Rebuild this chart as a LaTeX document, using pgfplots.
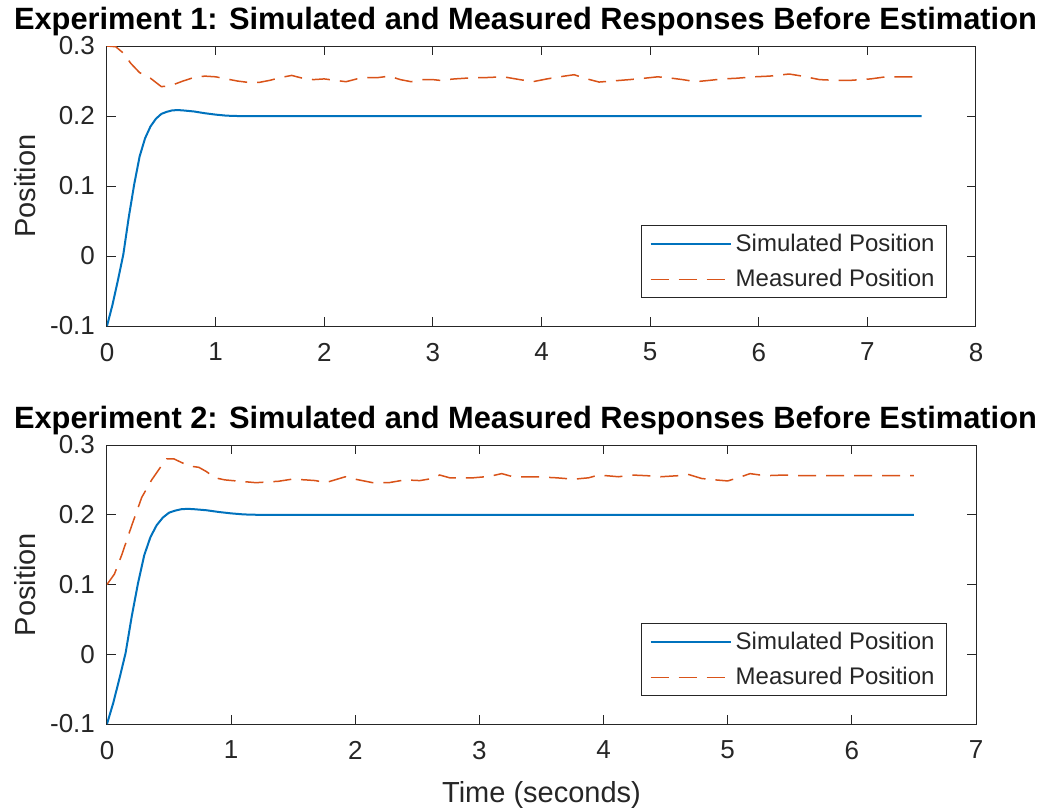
\documentclass[border=0pt]{standalone}
\usepackage{pgfplots}
\pgfplotsset{compat=1.18}
\usepackage{fontspec}
\setmainfont{Liberation Sans}
\definecolor{mblue}{rgb}{0,0.447,0.741}
\definecolor{morange}{rgb}{0.85,0.325,0.098}
\definecolor{axgray}{rgb}{0.15,0.15,0.15}

\pgfplotstableread{
t v
0 -0.1
0.05 -0.07
0.1 -0.035
0.15 0.002
0.2 0.055
0.25 0.102
0.3 0.142
0.35 0.168
0.4 0.185
0.45 0.196
0.5 0.203
0.55 0.206
0.6 0.208
0.65 0.2085
0.7 0.208
0.8 0.2065
0.9 0.204
1.0 0.202
1.1 0.2005
1.2 0.2
7.5 0.2
}\simA

\pgfplotstableread{
t v
0 -0.1
0.05 -0.07
0.1 -0.035
0.15 0.002
0.2 0.055
0.25 0.102
0.3 0.142
0.35 0.168
0.4 0.185
0.45 0.196
0.5 0.203
0.55 0.206
0.6 0.208
0.65 0.2085
0.7 0.208
0.8 0.2065
0.9 0.204
1.0 0.202
1.1 0.2005
1.2 0.2
6.5 0.2
}\simB

\pgfplotstableread{
t v
0 0.3
0.08 0.299
0.15 0.29
0.22 0.275
0.3 0.262
0.4 0.254
0.5 0.242
0.58 0.243
0.7 0.25
0.8 0.255
0.9 0.257
1.0 0.256
1.1 0.253
1.2 0.25
1.3 0.248
1.4 0.248
1.5 0.251
1.6 0.255
1.7 0.258
1.8 0.254
1.9 0.252
2.0 0.253
2.1 0.251
2.2 0.249
2.3 0.253
2.4 0.255
2.5 0.255
2.6 0.257
2.7 0.252
2.8 0.249
2.9 0.252
3.0 0.252
3.06 0.251
3.2 0.253
3.35 0.2545
3.5 0.255
3.65 0.256
3.8 0.252
3.92 0.249
4.05 0.253
4.21 0.257
4.3 0.259
4.42 0.253
4.53 0.2485
4.65 0.25
4.81 0.252
4.95 0.254
5.07 0.256
5.2 0.254
5.3 0.252
5.42 0.249
5.55 0.251
5.67 0.253
5.8 0.254
5.96 0.256
6.1 0.257
6.28 0.26
6.4 0.257
6.56 0.252
6.7 0.251
6.85 0.251
7.03 0.253
7.17 0.256
7.3 0.256
7.5 0.256
}\meaA

\pgfplotstableread{
t v
0 0.1
0.06 0.115
0.12 0.143
0.2 0.185
0.28 0.225
0.36 0.25
0.43 0.268
0.48 0.28
0.54 0.28
0.6 0.275
0.66 0.27
0.74 0.268
0.8 0.262
0.87 0.253
0.95 0.25
1.01 0.249
1.2 0.246
1.38 0.248
1.49 0.251
1.6 0.25
1.68 0.249
1.76 0.246
1.92 0.2545
2.0 0.251
2.14 0.246
2.27 0.246
2.4 0.25
2.52 0.249
2.62 0.252
2.68 0.257
2.76 0.253
2.95 0.253
3.08 0.255
3.18 0.259
3.27 0.2545
3.45 0.2545
3.62 0.253
3.76 0.251
3.88 0.253
3.96 0.257
4.12 0.2545
4.23 0.257
4.35 0.256
4.46 0.2545
4.6 0.256
4.68 0.258
4.79 0.252
4.9 0.25
5.0 0.2485
5.1 0.254
5.18 0.259
5.3 0.256
5.46 0.257
5.6 0.256
5.74 0.256
6.0 0.256
6.3 0.256
6.5 0.256
}\meaB

\pgfplotsset{
  myaxis/.style={
    scale only axis,
    width=434.5pt,
    anchor=south west,
    ymin=-0.1, ymax=0.3,
    ytick={-0.1,0,0.1,0.2,0.3},
    yticklabels={-0.1,0,0.1,0.2,0.3},
    tick align=inside,
    tick pos=both,
    major tick length=4.5pt,
    every tick/.style={axgray, line width=0.5pt},
    axis line style={axgray, line width=0.5pt},
    /pgf/number format/assume math mode=true,
    tick label style={font=\fontsize{13}{15}\selectfont, text=axgray},
    xticklabel style={yshift=-5pt},
    yticklabel style={xshift=-2.5pt},
    ylabel={Position},
    every axis y label/.style={at={(rel axis cs:0,0.5)}, anchor=center, rotate=90, yshift=41pt, font=\fontsize{14.5}{16}\selectfont, text=axgray},
    every axis title/.style={at={(rel axis cs:0.5,1)}, anchor=base, yshift=8.5pt, xshift=-8pt, font=\fontsize{15.4}{17}\selectfont\bfseries},
    legend style={at={(rel axis cs:1,0)}, anchor=south east, xshift=-14.5pt, yshift=14pt,
      draw=axgray, line width=0.5pt, font=\fontsize{12}{14}\selectfont, text=axgray,
      inner xsep=4pt, inner ysep=2pt, row sep=3.5pt},
    legend cell align=left,
    legend image code/.code={\draw[#1] (0pt,0pt) -- (40pt,0pt);},
  }
}

\begin{document}
\begin{tikzpicture}
\pgfresetboundingbox
\useasboundingbox (0pt,0pt) rectangle (520pt,-405pt);
\begin{axis}[myaxis,
  at={(53.5pt,-163pt)},
  height=140pt,
  xmin=0, xmax=8,
  xtick={0,1,2,3,4,5,6,7,8},
  title={Experiment 1: Simulated and Measured Responses Before Estimation},
]
\addplot[mblue, line width=1pt] table[x=t,y=v] {\simA};
\addlegendentry{Simulated Position}
\addplot[morange, line width=0.75pt, dash pattern=on 9pt off 5pt] table[x=t,y=v] {\meaA};
\addlegendentry{Measured Position}
\end{axis}
\begin{axis}[myaxis,
  at={(53.5pt,-362pt)},
  height=139.5pt,
  xmin=0, xmax=7,
  xtick={0,1,2,3,4,5,6,7},
  title={Experiment 2: Simulated and Measured Responses Before Estimation},
  xlabel={Time (seconds)},
  every axis x label/.style={at={(rel axis cs:0.5,0)}, anchor=center, yshift=-35.5pt, font=\fontsize{14.5}{16}\selectfont, text=axgray},
]
\addplot[mblue, line width=1pt] table[x=t,y=v] {\simB};
\addlegendentry{Simulated Position}
\addplot[morange, line width=0.75pt, dash pattern=on 9pt off 5pt] table[x=t,y=v] {\meaB};
\addlegendentry{Measured Position}
\end{axis}
\end{tikzpicture}
\end{document}
